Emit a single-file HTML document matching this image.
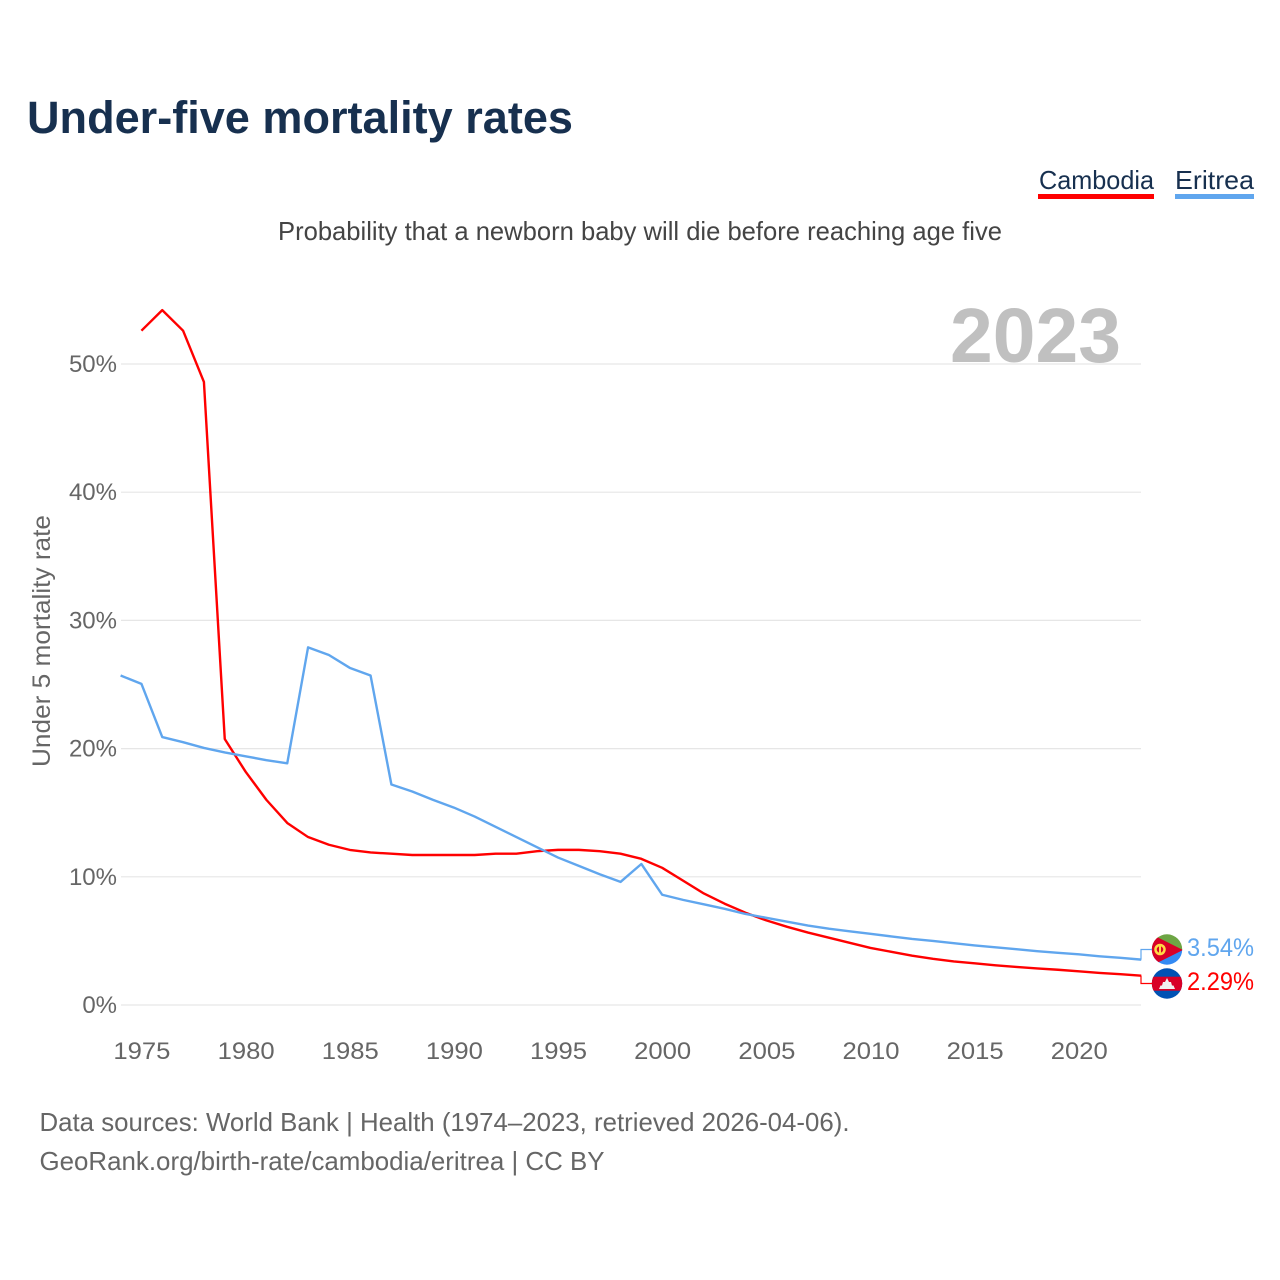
<!DOCTYPE html>
<html lang="en">
<head>
<meta charset="utf-8">
<title>Under-five mortality rates</title>
<style>
html,body{margin:0;padding:0;background:#fff;width:1280px;height:1280px;overflow:hidden}
svg{display:block;font-family:"Liberation Sans",sans-serif}
</style>
</head>
<body>
<svg id="chart" xmlns="http://www.w3.org/2000/svg" width="1280" height="1280" viewBox="0 0 1280 1280">
  <text x="27" y="133" font-size="45" font-weight="700" fill="#17304f" textLength="546" lengthAdjust="spacingAndGlyphs">Under-five mortality rates</text>
  <g>
    <g>
      <text x="1039" y="189" font-size="26" fill="#17304f" textLength="115" lengthAdjust="spacingAndGlyphs">Cambodia</text>
      <rect x="1038" y="194" width="116" height="5" fill="#ff0000"/>
    </g>
    <g>
      <text x="1175" y="189" font-size="26" fill="#17304f" textLength="79" lengthAdjust="spacingAndGlyphs">Eritrea</text>
      <rect x="1175" y="194" width="79" height="5" fill="#60a6ee"/>
    </g>
  </g>
  <text x="278" y="240" font-size="26" fill="#444444" textLength="724" lengthAdjust="spacingAndGlyphs">Probability that a newborn baby will die before reaching age five</text>
  <g id="grid"></g>
  <text x="950" y="362" font-size="77" font-weight="700" fill="#c0c0c0" textLength="171" lengthAdjust="spacingAndGlyphs">2023</text>
  <g id="yticks"></g>
  <g id="xticks"></g>
  <text transform="translate(50 767) rotate(-90)" font-size="25" fill="#666666" textLength="252" lengthAdjust="spacingAndGlyphs">Under 5 mortality rate</text>
  <g id="series"></g>
  <g>
    <clipPath id="clip-er"><circle cx="1167" cy="949.5" r="15.2"/></clipPath>
    <g clip-path="url(#clip-er)">
      <rect x="1151" y="934" width="32" height="16" fill="#6da544"/>
      <rect x="1151" y="950" width="32" height="16" fill="#338af3"/>
      <polygon points="1151,934 1183,950 1151,966" fill="#d80027"/>
      <circle cx="1160" cy="949.5" r="4.5" fill="none" stroke="#ffda44" stroke-width="2.5"/>
      <rect x="1159" y="946" width="2" height="7" fill="#ffda44"/>
    </g>
  </g>
  <g>
    <clipPath id="clip-kh"><circle cx="1167" cy="983.5" r="15.2"/></clipPath>
    <g clip-path="url(#clip-kh)">
      <rect x="1151" y="968" width="32" height="32" fill="#0052b4"/>
      <rect x="1151" y="976.7" width="32" height="14" fill="#d80027"/>
      <polygon points="1159,989 1160.5,985.5 1162,985.5 1163,982 1165,982 1167,978 1169,982 1171,982 1172,985.5 1173.5,985.5 1175,989" fill="#f0f0f0"/>
    </g>
  </g>
  <g id="endlabels"></g>
  <text x="39.5" y="1131" font-size="26" fill="#666666" textLength="810" lengthAdjust="spacingAndGlyphs">Data sources: World Bank | Health (1974–2023, retrieved 2026-04-06).</text>
  <text x="39.5" y="1170" font-size="26" fill="#666666" textLength="565" lengthAdjust="spacingAndGlyphs">GeoRank.org/birth-rate/cambodia/eritrea | CC BY</text>
</svg>
<script>
const yearTicks = [1975,1980,1985,1990,1995,2000,2005,2010,2015,2020];
const rateTicks = [0,10,20,30,40,50];
const cambodiaYears = [1975,1976,1977,1978,1979,1980,1981,1982,1983,1984,1985,1986,1987,1988,1989,1990,1991,1992,1993,1994,1995,1996,1997,1998,1999,2000,2001,2002,2003,2004,2005,2006,2007,2008,2009,2010,2011,2012,2013,2014,2015,2016,2017,2018,2019,2020,2021,2022,2023];
const cambodiaRates = [52.6,54.2,52.6,48.6,20.75,18.2,16.0,14.2,13.1,12.5,12.1,11.9,11.8,11.7,11.7,11.7,11.7,11.8,11.8,12.0,12.1,12.1,12.0,11.8,11.4,10.7,9.7,8.7,7.9,7.2,6.6,6.1,5.65,5.25,4.85,4.45,4.15,3.85,3.6,3.4,3.25,3.1,2.97,2.85,2.75,2.63,2.5,2.4,2.29];
const eritreaYears = [1974,1975,1976,1977,1978,1979,1980,1981,1982,1983,1984,1985,1986,1987,1988,1989,1990,1991,1992,1993,1994,1995,1996,1997,1998,1999,2000,2001,2002,2003,2004,2005,2006,2007,2008,2009,2010,2011,2012,2013,2014,2015,2016,2017,2018,2019,2020,2021,2022,2023];
const eritreaRates = [25.7,25.05,20.9,20.5,20.05,19.7,19.4,19.1,18.85,27.9,27.3,26.3,25.7,17.2,16.65,16.0,15.4,14.7,13.9,13.1,12.3,11.5,10.85,10.2,9.6,11.0,8.6,8.2,7.85,7.5,7.1,6.8,6.5,6.2,5.95,5.75,5.55,5.35,5.15,5.0,4.82,4.65,4.5,4.35,4.2,4.07,3.95,3.8,3.68,3.54];

const NS = 'http://www.w3.org/2000/svg';
const xScale = year => 120.6 + (year - 1974) * 20.83;
const yScale = rate => 1005 - rate * 12.82;
const make = (tag, attrs) => {
  const el = document.createElementNS(NS, tag);
  Object.keys(attrs).forEach(k => el.setAttribute(k, attrs[k]));
  return el;
};

const grid = document.getElementById('grid');
const yticks = document.getElementById('yticks');
rateTicks.forEach(t => {
  const line = make('line', {x1:121, x2:1141, y1:yScale(t), y2:yScale(t), stroke:'#e6e6e6', 'stroke-width':1.2});
  
  
  grid.appendChild(line);
  const label = make('text', {x:117, y:yScale(t) + 8, 'text-anchor':'end', 'font-size':24, fill:'#666666'});
  
  
  label.textContent = t + '%';
  yticks.appendChild(label);
});

const xticks = document.getElementById('xticks');
yearTicks.forEach(t => {
  const label = make('text', {x:xScale(t) + 0.5, y:1059, 'text-anchor':'middle', 'font-size':24, fill:'#666666', textLength:57, lengthAdjust:'spacingAndGlyphs'});
  
  
  label.textContent = t;
  xticks.appendChild(label);
});

const series = document.getElementById('series');
const toPath = (years, rates) => rates.map((r, i) => (i ? 'L' : 'M') + xScale(years[i]).toFixed(2) + ' ' + yScale(r).toFixed(2)).join(' ');

const cambodiaLine = make('path', {d:toPath(cambodiaYears, cambodiaRates), fill:'none', stroke:'#ff0000', 'stroke-width':2.4, 'stroke-linejoin':'round'});


const eritreaLine = make('path', {d:toPath(eritreaYears, eritreaRates), fill:'none', stroke:'#60a6ee', 'stroke-width':2.4, 'stroke-linejoin':'round'});


series.appendChild(cambodiaLine);
series.appendChild(eritreaLine);

const endlabels = document.getElementById('endlabels');
const lastEritrea = eritreaRates[eritreaRates.length - 1];
const lastCambodia = cambodiaRates[cambodiaRates.length - 1];

const connectorEritrea = make('path', {d:'M1141 ' + yScale(lastEritrea).toFixed(1) + ' V949.5 H1152', fill:'none', stroke:'#60a6ee', 'stroke-width':1.2});


endlabels.appendChild(connectorEritrea);

const connectorCambodia = make('path', {d:'M1141 ' + yScale(lastCambodia).toFixed(1) + ' V983.5 H1152', fill:'none', stroke:'#ff0000', 'stroke-width':1.2});


endlabels.appendChild(connectorCambodia);

const valueEritrea = make('text', {x:1187, y:956, 'font-size':25, fill:'#60a6ee', textLength:67, lengthAdjust:'spacingAndGlyphs'});


valueEritrea.textContent = lastEritrea.toFixed(2) + '%';
endlabels.appendChild(valueEritrea);

const valueCambodia = make('text', {x:1187, y:990, 'font-size':25, fill:'#ff0000', textLength:67, lengthAdjust:'spacingAndGlyphs'});


valueCambodia.textContent = lastCambodia.toFixed(2) + '%';
endlabels.appendChild(valueCambodia);
</script>
</body>
</html>
